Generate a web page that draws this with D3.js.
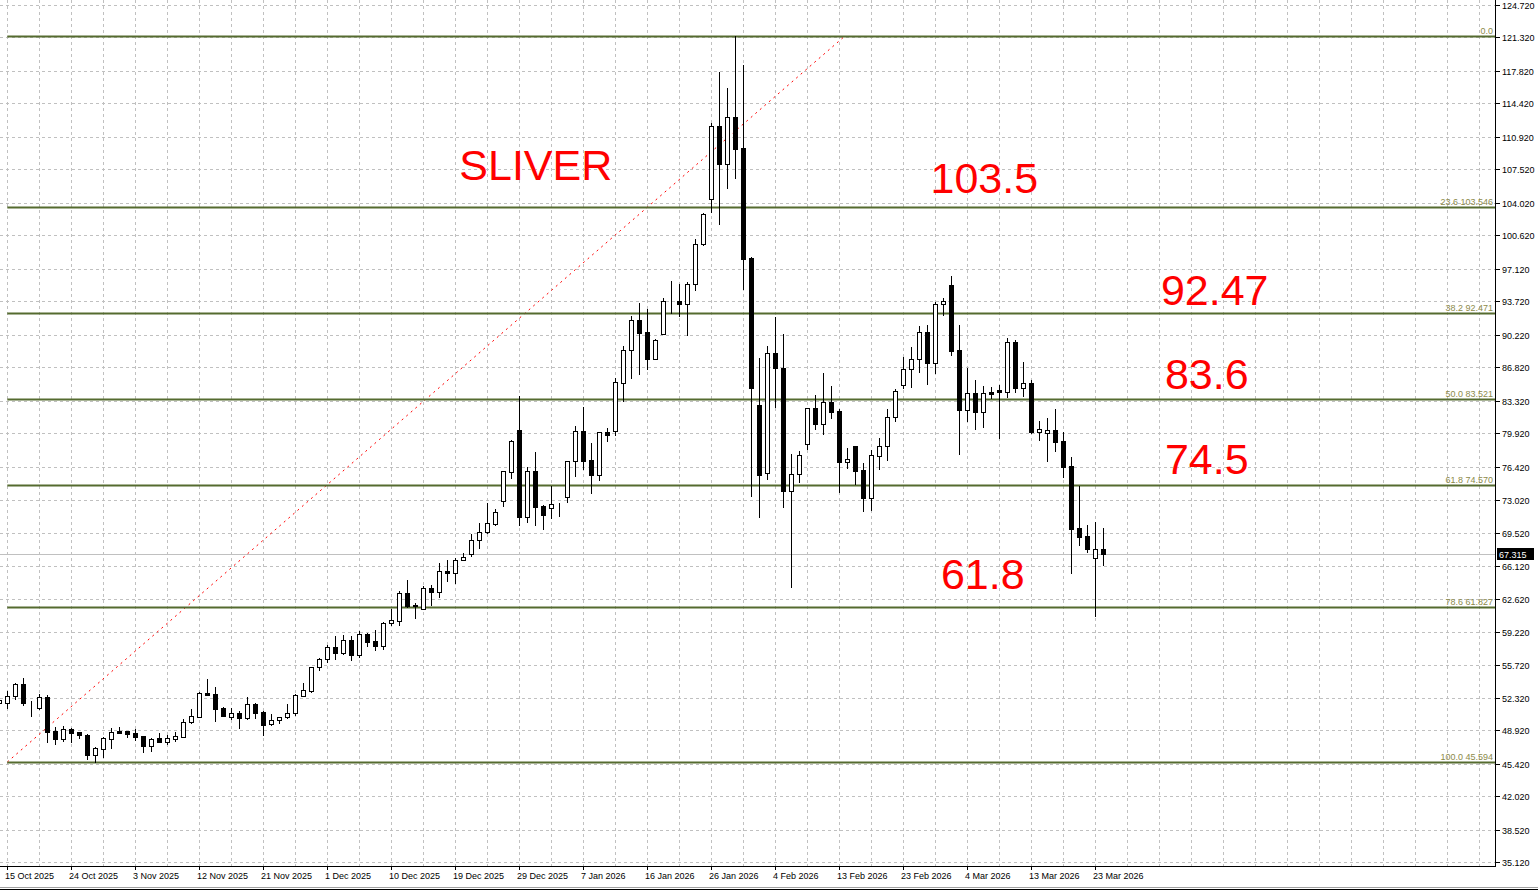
<!DOCTYPE html>
<html>
<head>
<meta charset="utf-8">
<script src="https://cdn.jsdelivr.net/npm/d3@7"></script>
<style>
  body { margin: 0; background: #fff; }
  svg { display: block; }
  .axis-label { font-family: Tahoma, "Liberation Sans", sans-serif; font-size: 9px; fill: #000; }
  .fib-label { font-family: Tahoma, "Liberation Sans", sans-serif; font-size: 9px; fill: #8c8a4a; }
  .big-label { font-family: Arial, "Liberation Sans", sans-serif; font-size: 43px; fill: #ff0000; }
</style>
</head>
<body>
<svg width="1538" height="891"></svg>
<script>
// daily bars, index 0 = 14 Oct 2025 (partly off the left edge), last = 24 Mar 2026
const opens = [
  51.76, 51.73, 52.49, 53.75, 51.90, 51.27, 52.36, 48.83, 48.03, 49.04,
  48.73, 48.42, 46.36, 46.99, 48.03, 48.83, 48.83, 48.59, 48.28, 47.30,
  48.07, 47.72, 48.03, 48.24, 49.74, 50.33, 52.77, 52.70, 51.21, 50.33,
  50.68, 50.22, 51.66, 50.85, 49.53, 50.01, 50.27, 50.68, 52.52, 53.01,
  55.49, 56.33, 57.58, 57.02, 58.31, 56.81, 58.97, 58.24, 57.75, 60.09,
  60.36, 63.22, 62.00, 61.58, 63.77, 63.39, 65.52, 65.37, 66.70, 67.30,
  68.76, 69.60, 70.46, 72.83, 75.87, 80.28, 71.23, 76.00, 72.34, 72.10,
  72.55, 73.25, 77.02, 80.15, 77.15, 75.61, 80.08, 80.21, 85.23, 88.61,
  91.75, 90.49, 87.73, 90.35, 93.73, 93.76, 93.48, 95.51, 99.69, 104.39,
  112.05, 108.11, 112.96, 109.75, 98.23, 82.90, 75.76, 88.30, 86.73, 73.94,
  75.66, 78.79, 82.55, 80.88, 83.18, 82.27, 76.91, 78.58, 76.07, 73.15,
  77.60, 78.58, 81.61, 85.02, 86.63, 87.67, 90.49, 87.32, 93.42, 95.44,
  88.64, 82.41, 84.12, 82.20, 84.22, 84.43, 84.29, 89.45, 84.71, 85.17,
  80.11, 79.92, 80.29, 79.13, 76.52, 70.01, 69.21, 66.94, 67.82
];
const highs = [
  52.70, 53.05, 53.88, 54.40, 51.97, 52.70, 52.59, 49.22, 49.36, 49.11,
  48.78, 48.52, 47.19, 48.18, 49.18, 49.22, 48.88, 49.01, 48.34, 48.10,
  48.59, 48.42, 48.76, 50.06, 51.13, 52.88, 54.27, 53.40, 51.31, 51.21,
  50.92, 52.42, 51.76, 50.92, 50.61, 50.33, 51.66, 52.70, 53.85, 55.55,
  56.43, 57.77, 58.76, 58.83, 58.76, 59.28, 59.11, 59.39, 60.26, 61.55,
  63.46, 64.61, 62.24, 63.98, 64.09, 66.42, 66.70, 66.91, 67.40, 69.42,
  70.54, 72.63, 71.99, 76.00, 79.24, 83.87, 76.39, 78.02, 72.45, 74.43,
  72.69, 77.02, 80.70, 82.69, 78.93, 80.04, 80.53, 85.75, 89.06, 92.20,
  93.55, 92.93, 89.79, 94.08, 95.85, 95.57, 95.75, 100.24, 102.93, 112.33,
  117.69, 116.02, 121.447, 118.42, 98.39, 87.78, 89.06, 92.06, 90.28, 77.78,
  78.09, 82.55, 83.94, 86.21, 84.88, 82.45, 78.37, 78.61, 76.81, 78.20,
  79.42, 82.48, 84.54, 87.91, 88.92, 91.15, 91.23, 93.69, 94.05, 96.38,
  91.26, 86.80, 85.51, 84.88, 84.78, 84.99, 89.87, 89.66, 87.39, 85.48,
  81.22, 81.56, 82.48, 80.11, 77.43, 74.43, 70.36, 70.67, 70.05
];
const lows = [
  51.24, 51.21, 52.15, 51.58, 50.40, 51.13, 47.72, 47.44, 47.79, 47.72,
  48.07, 45.91, 45.594, 46.09, 47.09, 48.59, 48.24, 47.89, 46.67, 46.78,
  47.65, 47.51, 47.82, 48.21, 49.70, 50.27, 52.63, 49.91, 50.37, 50.12,
  49.15, 50.09, 50.19, 48.42, 49.49, 49.64, 50.23, 50.50, 52.50, 52.94,
  55.24, 56.08, 56.36, 56.88, 56.25, 56.54, 57.75, 57.30, 57.40, 59.91,
  59.91, 61.82, 60.67, 61.55, 62.03, 62.87, 64.54, 64.33, 66.65, 67.12,
  67.99, 69.49, 70.36, 72.38, 75.30, 70.36, 70.70, 70.36, 69.97, 71.12,
  71.33, 72.79, 75.51, 76.21, 73.73, 75.09, 79.17, 79.76, 83.35, 85.75,
  86.17, 86.69, 87.67, 90.35, 92.54, 92.20, 90.21, 94.91, 99.62, 103.10,
  101.78, 105.60, 106.65, 94.99, 73.42, 71.23, 75.20, 82.66, 72.21, 63.91,
  74.88, 78.30, 80.36, 79.83, 81.51, 73.84, 76.28, 74.64, 71.85, 71.93,
  76.18, 77.15, 81.26, 84.70, 84.81, 86.38, 85.12, 86.27, 92.27, 88.12,
  77.81, 81.23, 80.39, 80.57, 83.60, 79.48, 83.77, 84.29, 83.84, 80.00,
  79.24, 77.05, 78.09, 75.40, 65.37, 68.30, 67.54, 60.88, 66.18
];
const closes = [
  52.07, 52.49, 53.75, 51.79, 51.83, 52.36, 48.76, 48.03, 49.01, 48.66,
  48.42, 46.36, 47.06, 48.07, 48.70, 48.63, 48.55, 48.21, 47.30, 48.03,
  47.72, 48.07, 48.28, 49.74, 50.37, 52.77, 52.63, 51.16, 50.43, 50.68,
  50.22, 51.62, 50.74, 49.49, 49.98, 50.27, 50.71, 52.59, 53.12, 55.49,
  56.33, 57.58, 57.02, 58.31, 56.81, 58.94, 58.17, 57.75, 60.12, 60.40,
  63.22, 61.90, 61.93, 63.74, 63.36, 65.52, 65.37, 66.70, 67.05, 68.79,
  69.60, 70.54, 71.68, 75.97, 79.14, 71.23, 76.00, 72.27, 71.43, 72.52,
  72.58, 77.02, 80.15, 77.08, 75.61, 80.04, 79.79, 85.27, 88.61, 91.75,
  90.45, 87.73, 89.69, 93.73, 93.75, 93.48, 95.54, 99.72, 102.82, 112.05,
  108.11, 112.96, 109.68, 98.18, 84.64, 75.58, 88.30, 86.73, 73.94, 75.66,
  77.64, 82.55, 80.88, 83.18, 82.20, 76.91, 77.22, 76.03, 73.15, 77.64,
  78.58, 81.61, 84.33, 86.63, 87.67, 90.49, 87.32, 93.42, 93.73, 88.57,
  82.41, 84.12, 82.20, 84.12, 84.08, 84.29, 89.45, 84.71, 85.17, 80.08,
  80.36, 80.26, 79.06, 76.45, 69.97, 69.14, 67.88, 67.82, 67.315
];

// date labels sit on every 8th bar starting at bar 1
const dateLabels = ['15 Oct 2025', '24 Oct 2025', '3 Nov 2025', '12 Nov 2025', '21 Nov 2025', '1 Dec 2025',
  '10 Dec 2025', '19 Dec 2025', '29 Dec 2025', '7 Jan 2026', '16 Jan 2026', '26 Jan 2026', '4 Feb 2026',
  '13 Feb 2026', '23 Feb 2026', '4 Mar 2026', '13 Mar 2026', '23 Mar 2026'];
const priceTicks = [124.72, 121.32, 117.82, 114.42, 110.92, 107.52, 104.02, 100.62, 97.12, 93.72, 90.22,
  86.82, 83.32, 79.92, 76.42, 73.02, 69.52, 66.12, 62.62, 59.22, 55.72, 52.32, 48.92, 45.42, 42.02, 38.52, 35.12];

// fibonacci retracement, drawn from the low (bar 1) up to the high (bar 105.7)
const fibLevels = [0, 23.6, 38.2, 50.0, 61.8, 78.6, 100.0];
const fibLabels = ['0.0', '23.6 103.546', '38.2 92.471', '50.0 83.521', '61.8 74.570', '78.6 61.827', '100.0 45.594'];
const fibHigh = 121.447, fibLow = 45.594;
const fibStartBar = 1, fibEndBar = 105.7;
const lastPrice = 67.315;

// big red notes (bar position / price of the text baseline)
const notes = [
  { text: 'SLIVER', bar: 57.5, price: 106.40 },
  { text: '103.5', bar: 116.4, price: 105.05 },
  { text: '92.47', bar: 145.2, price: 93.34 },
  { text: '83.6', bar: 145.7, price: 84.57 },
  { text: '74.5', bar: 145.7, price: 75.69 },
  { text: '61.8', bar: 117.7, price: 63.62 }
];

const svg = d3.select('svg');
const plotRight = 1495, plotBottom = 866;

const xScale = d3.scaleLinear().domain([0, 138]).range([-0.7, 1103.3]);
const yScale = d3.scaleLinear().domain([35.12, 124.72]).range([862.25, 4.67]);

const g = svg.append('g');

// grid
const gridBars = d3.range(1, 190, 4).filter(i => xScale(i) < plotRight);
g.selectAll('.vgrid').data(gridBars).enter().append('line')
  .attr('x1', d => Math.round(xScale(d)) + 0.5).attr('x2', d => Math.round(xScale(d)) + 0.5)
  .attr('y1', 0).attr('y2', plotBottom)
  .attr('stroke', '#c0c0c0').attr('stroke-dasharray', '3,3');
g.selectAll('.hgrid').data(priceTicks).enter().append('line')
  .attr('x1', 0).attr('x2', plotRight)
  .attr('y1', d => Math.round(yScale(d)) + 0.5).attr('y2', d => Math.round(yScale(d)) + 0.5)
  .attr('stroke', '#c0c0c0').attr('stroke-dasharray', '3,3');

// current price line
g.append('line')
  .attr('x1', 0).attr('x2', plotRight)
  .attr('y1', Math.round(yScale(lastPrice)) + 0.5).attr('y2', Math.round(yScale(lastPrice)) + 0.5)
  .attr('stroke', '#c0c0c0');

// fib trend line (red dotted)
g.append('line')
  .attr('x1', xScale(fibStartBar)).attr('y1', yScale(fibLow))
  .attr('x2', xScale(fibEndBar)).attr('y2', yScale(fibHigh))
  .attr('stroke', '#ff0000').attr('stroke-dasharray', '2,4');

// fib levels
const fibPrice = lvl => fibHigh - (fibHigh - fibLow) * lvl / 100;
g.selectAll('.fib').data(fibLevels).enter().append('line')
  .attr('x1', xScale(fibStartBar)).attr('x2', plotRight)
  .attr('y1', d => Math.round(yScale(fibPrice(d))) + 0.5).attr('y2', d => Math.round(yScale(fibPrice(d))) + 0.5)
  .attr('stroke', '#556b2f').attr('stroke-width', 2);
g.selectAll('.fibtxt').data(fibLevels).enter().append('text')
  .attr('class', 'fib-label')
  .attr('x', plotRight - 2).attr('y', d => Math.round(yScale(fibPrice(d))) - 2)
  .attr('text-anchor', 'end')
  .text((d, i) => fibLabels[i]);

// candles
const bars = opens.map((o, i) => ({ i, o, h: highs[i], l: lows[i], c: closes[i] }));
const candle = g.selectAll('.candle').data(bars).enter().append('g');
candle.append('line')
  .attr('x1', d => Math.round(xScale(d.i)) + 0.5).attr('x2', d => Math.round(xScale(d.i)) + 0.5)
  .attr('y1', d => Math.round(yScale(d.h))).attr('y2', d => Math.round(yScale(d.l)) + 1)
  .attr('stroke', '#000');
candle.append('rect')
  .attr('x', d => Math.round(xScale(d.i)) - 1.5)
  .attr('y', d => Math.round(yScale(Math.max(d.o, d.c))) + 0.5)
  .attr('width', 4)
  .attr('height', d => Math.max(0, Math.round(yScale(Math.min(d.o, d.c))) - Math.round(yScale(Math.max(d.o, d.c)))))
  .attr('fill', d => d.c >= d.o ? '#fff' : '#000')
  .attr('stroke', '#000');

// frame
svg.append('line').attr('x1', plotRight + 0.5).attr('x2', plotRight + 0.5).attr('y1', 0).attr('y2', plotBottom + 1)
  .attr('stroke', '#000');
svg.append('line').attr('x1', 0).attr('x2', plotRight + 1).attr('y1', plotBottom + 0.5).attr('y2', plotBottom + 0.5)
  .attr('stroke', '#000');
svg.append('line').attr('x1', 0).attr('x2', 1538).attr('y1', 887.5).attr('y2', 887.5).attr('stroke', '#a0a0a0');
svg.append('line').attr('x1', 0).attr('x2', 1538).attr('y1', 889.5).attr('y2', 889.5).attr('stroke', '#000');

// price axis
const yAxis = svg.append('g');
yAxis.selectAll('line').data(priceTicks).enter().append('line')
  .attr('x1', plotRight).attr('x2', plotRight + 5)
  .attr('y1', d => Math.round(yScale(d)) + 0.5).attr('y2', d => Math.round(yScale(d)) + 0.5)
  .attr('stroke', '#000');
yAxis.selectAll('text').data(priceTicks).enter().append('text')
  .attr('class', 'axis-label')
  .attr('x', plotRight + 7).attr('y', d => Math.round(yScale(d)) + 4)
  .text(d => d3.format('.3f')(d));

// last price tag
const tagY = Math.round(yScale(lastPrice));
svg.append('rect').attr('x', plotRight + 2).attr('y', tagY - 6).attr('width', 37).attr('height', 12).attr('fill', '#000');
svg.append('text').attr('class', 'axis-label').attr('x', plotRight + 4).attr('y', tagY + 4)
  .style('fill', '#fff').text(d3.format('.3f')(lastPrice));

// time axis
const dateBars = dateLabels.map((d, k) => 1 + 8 * k);
const xAxis = svg.append('g');
xAxis.selectAll('line').data(dateBars).enter().append('line')
  .attr('x1', d => Math.round(xScale(d)) + 0.5).attr('x2', d => Math.round(xScale(d)) + 0.5)
  .attr('y1', plotBottom).attr('y2', plotBottom + 4)
  .attr('stroke', '#000');
xAxis.selectAll('text').data(dateLabels).enter().append('text')
  .attr('class', 'axis-label')
  .attr('x', (d, k) => Math.round(xScale(dateBars[k])) - 2).attr('y', 879)
  .text(d => d);

// notes
g.selectAll('.note').data(notes).enter().append('text')
  .attr('class', 'big-label')
  .attr('x', d => xScale(d.bar)).attr('y', d => yScale(d.price))
  .text(d => d.text);
</script>
</body>
</html>
